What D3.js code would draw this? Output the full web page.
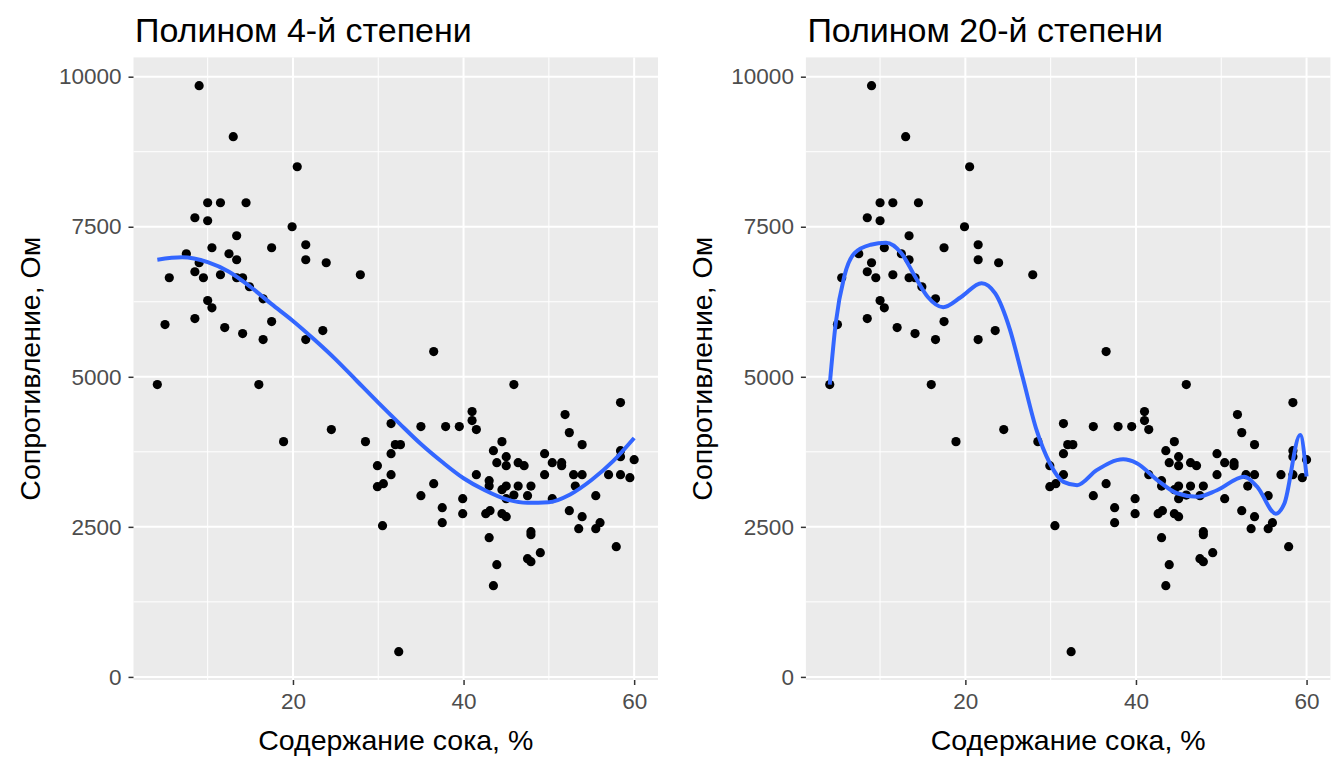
<!DOCTYPE html>
<html>
<head>
<meta charset="utf-8">
<script src="https://cdn.jsdelivr.net/npm/d3@7"></script>
<style>
  html, body { margin: 0; padding: 0; background: #ffffff; }
  svg { display: block; }
  text { font-family: "Liberation Sans", Arial, sans-serif; }
</style>
</head>
<body>
<svg id="chart" width="1344" height="768"></svg>
<script>
// ---------------- DATA ----------------
const juiceX = [
  9.0, 13.0, 20.5, 10.0, 11.5, 14.5, 8.5, 10.0, 19.9, 13.4, 21.5, 17.5, 10.5, 7.5, 12.5, 13.4, 21.5, 23.9, 9.0, 27.9,
  8.5, 5.5, 9.5, 11.5, 13.4, 14.1, 14.9, 16.5, 10.0, 10.5, 5.0, 8.5, 12.0, 17.5, 14.1, 16.5, 21.5, 23.5,
  4.1, 16.0, 24.5, 18.9, 28.5, 31.5, 32.0, 31.5, 29.9, 31.5, 29.9, 30.6, 30.5, 32.4,
  36.5, 45.9, 58.4, 41.0, 41.0, 41.5, 35.0, 37.9, 39.5, 51.9, 52.4, 53.9, 44.5, 43.5, 45.0, 43.9, 45.0, 46.4,
  47.1, 49.5, 50.4, 51.5, 51.5, 49.5, 52.9, 53.9, 53.1, 55.5, 57.0, 58.4, 58.4, 58.4, 59.5, 60.0, 57.9, 32.6,
  36.5, 35.0, 37.5, 37.5, 39.9, 39.9, 41.5, 43.0, 43.0, 44.5, 45.0, 45.0, 45.9, 46.4, 47.5, 47.9, 50.4, 52.4,
  53.9, 53.5, 55.5, 56.0, 42.6, 43.1, 44.5, 45.0, 43.0, 47.9, 47.9, 43.9, 43.5, 47.5, 47.9, 49.0
];
const resistanceY = [
  9850, 9000, 8500, 7900, 7900, 7900, 7650, 7600, 7500, 7350, 7200, 7150, 7150, 7050, 7050, 6950, 6950, 6900, 6900, 6700,
  6750, 6650, 6650, 6700, 6650, 6650, 6500, 6300, 6270, 6150, 5870, 5970, 5820, 5920, 5720, 5620, 5620, 5770,
  4870, 4870, 4120, 3920, 3920, 4220, 3870, 3720, 3520, 3370, 3170, 3220, 2520, 420,
  5420, 4870, 4570, 4420, 4270, 4120, 4170, 4170, 4170, 4370, 4070, 3870, 3920, 3770, 3670, 3570, 3520, 3570,
  3520, 3720, 3570, 3570, 3520, 3370, 3370, 3370, 3180, 3020, 3370, 3770, 3670, 3370, 3320, 3620, 2170, 3870,
  3220, 3020, 2820, 2570, 2970, 2720, 3370, 3270, 3180, 3120, 3180, 2970, 3030, 3180, 3020, 3180, 2970, 2770,
  2670, 2470, 2470, 2570, 2720, 2770, 2720, 2670, 2320, 2420, 2370, 1870, 1520, 1970, 1920, 2070
];

// Fitted curves
const fit4X = [4.1, 7, 10, 12.5, 15, 17.5, 20, 22.5, 25, 27.5, 30, 32.5, 35, 37.5, 40, 42.5, 45, 47.5, 50, 52.5, 55, 57.5, 60];
const fit4Y = [6950, 6990, 6910, 6750, 6500, 6210, 5930, 5620, 5290, 4930, 4570, 4220, 3880, 3580, 3310, 3110, 2960, 2900, 2910, 3040, 3280, 3590, 3980];

const fit20X = [4.1, 4.8, 5.8, 7.0, 8.9, 10.7, 12.5, 14.1, 15.6, 17.4, 19.5, 21.9, 23.5, 25.2, 26.7, 28.35, 29.9, 31.5, 33.1,
                35.4, 38.5, 40.1, 42.5, 44.8, 47.2, 49.5, 52.7, 54.2, 56.4, 57.4, 59.25, 60.0];
const fit20Y = [4870, 5890, 6670, 7060, 7200, 7235, 7060, 6670, 6330, 6160, 6330, 6560, 6390, 5800, 5000, 4110, 3560, 3250, 3195,
                3445, 3625, 3560, 3280, 3060, 3000, 3110, 3335, 3170, 2720, 2890, 4030, 3340];

const panelTitles = ["Полином 4-й степени", "Полином 20-й степени"];
const xTicks = [20, 40, 60];
const xMinor = [10, 30, 50];
const yTicks = [0, 2500, 5000, 7500, 10000];
const yMinor = [1250, 3750, 6250, 8750];
const xTitle = "Содержание сока, %";
const yTitle = "Сопротивление, Ом";

// ---------------- LAYOUT ----------------
const svg = d3.select("#chart");
const panelW = 524.5, panelTop = 57.4, panelBottom = 680;
const panelLefts = [133.5, 805.9];

const points = juiceX.map((x, i) => ({x, y: resistanceY[i]}));
const xExt = d3.extent(juiceX), yExt = d3.extent(resistanceY);
const xPad = (xExt[1] - xExt[0]) * 0.05, yPad = (yExt[1] - yExt[0]) * 0.05;

const fits = [
  fit4X.map((x, i) => ({x, y: fit4Y[i]})),
  fit20X.map((x, i) => ({x, y: fit20Y[i]}))
];

panelLefts.forEach((left, p) => {
  const x = d3.scaleLinear().domain([xExt[0] - xPad, xExt[1] + xPad]).range([left, left + panelW]);
  const y = d3.scaleLinear().domain([yExt[0] - yPad, yExt[1] + yPad]).range([panelBottom, panelTop]);
  const g = svg.append("g");

  g.append("rect").attr("x", left).attr("y", panelTop).attr("width", panelW).attr("height", panelBottom - panelTop)
    .attr("fill", "#EBEBEB");

  // minor grid
  g.selectAll(".xm").data(xMinor).join("line")
    .attr("x1", d => x(d)).attr("x2", d => x(d)).attr("y1", panelTop).attr("y2", panelBottom)
    .attr("stroke", "#ffffff").attr("stroke-width", 1);
  g.selectAll(".ym").data(yMinor).join("line")
    .attr("y1", d => y(d)).attr("y2", d => y(d)).attr("x1", left).attr("x2", left + panelW)
    .attr("stroke", "#ffffff").attr("stroke-width", 1);
  // major grid
  g.selectAll(".xM").data(xTicks).join("line")
    .attr("x1", d => x(d)).attr("x2", d => x(d)).attr("y1", panelTop).attr("y2", panelBottom)
    .attr("stroke", "#ffffff").attr("stroke-width", 2);
  g.selectAll(".yM").data(yTicks).join("line")
    .attr("y1", d => y(d)).attr("y2", d => y(d)).attr("x1", left).attr("x2", left + panelW)
    .attr("stroke", "#ffffff").attr("stroke-width", 2);

  // axes
  const xAxis = d3.axisBottom(x).tickValues(xTicks).tickSize(5).tickPadding(8).tickFormat(d3.format("d"));
  const yAxis = d3.axisLeft(y).tickValues(yTicks).tickSize(5).tickPadding(7).tickFormat(d3.format("d"));
  const gx = g.append("g").attr("transform", `translate(0,${panelBottom})`).call(xAxis);
  const gy = g.append("g").attr("transform", `translate(${left},0)`).call(yAxis);
  [gx, gy].forEach(a => {
    a.select(".domain").remove();
    a.selectAll(".tick line").attr("stroke", "#333333").attr("stroke-width", 1.5);
    a.selectAll(".tick text").attr("fill", "#4D4D4D").style("font-size", "22.5px")
      .style("font-family", "'Liberation Sans', Arial, sans-serif");
  });

  // points
  g.selectAll(".pt").data(points).join("circle")
    .attr("cx", d => x(d.x)).attr("cy", d => y(d.y)).attr("r", 4.6).attr("fill", "#000000");

  // fitted line
  const line = d3.line().x(d => x(d.x)).y(d => y(d.y)).curve(d3.curveMonotoneX);
  g.append("path").datum(fits[p]).attr("d", line)
    .attr("fill", "none").attr("stroke", "#3366FF").attr("stroke-width", 4)
    .attr("stroke-linejoin", "round").attr("stroke-linecap", "butt");

  // titles
  g.append("text").attr("x", left + 1.5).attr("y", 42).text(panelTitles[p])
    .style("font-size", "34px").attr("fill", "#000000");
  g.append("text").attr("x", left + panelW / 2).attr("y", 750).attr("text-anchor", "middle")
    .text(xTitle).style("font-size", "28.5px").attr("fill", "#000000");
  g.append("text").attr("transform", `translate(${left - 93.5},${(panelTop + panelBottom) / 2}) rotate(-90)`)
    .attr("text-anchor", "middle").text(yTitle).style("font-size", "28.5px").attr("fill", "#000000");
});
</script>
</body>
</html>
